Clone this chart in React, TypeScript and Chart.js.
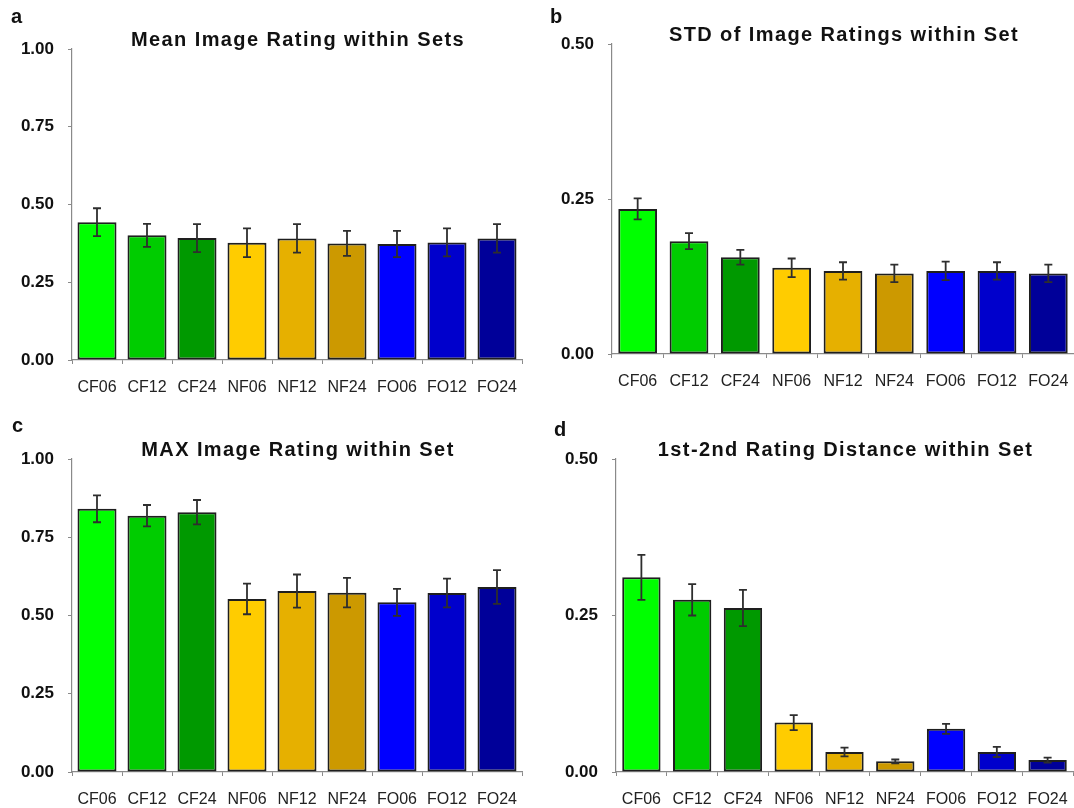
import React, { useEffect, useRef } from 'react';
import { Chart, registerables } from 'chart.js';

Chart.register(...registerables);

// ---------- data ----------
const categories = ['CF06', 'CF12', 'CF24', 'NF06', 'NF12', 'NF24', 'FO06', 'FO12', 'FO24'];
const barColors = ['#00ff00', '#00cc00', '#009900', '#ffcc00', '#e6b000', '#cc9900', '#0000ff', '#0000cc', '#000099'];

const meanRating = [0.443, 0.401, 0.392, 0.377, 0.391, 0.375, 0.373, 0.378, 0.391];
const meanRatingErr = [0.045, 0.037, 0.045, 0.046, 0.046, 0.040, 0.042, 0.045, 0.046];

const stdRating = [0.234, 0.182, 0.156, 0.139, 0.134, 0.130, 0.134, 0.134, 0.130];
const stdRatingErr = [0.017, 0.013, 0.012, 0.015, 0.014, 0.014, 0.015, 0.014, 0.014];

const maxRating = [0.841, 0.819, 0.830, 0.553, 0.578, 0.573, 0.542, 0.572, 0.591];
const maxRatingErr = [0.043, 0.034, 0.039, 0.049, 0.053, 0.047, 0.043, 0.046, 0.054];

const distRating = [0.311, 0.275, 0.262, 0.079, 0.032, 0.017, 0.069, 0.032, 0.019];
const distRatingErr = [0.036, 0.025, 0.029, 0.012, 0.007, 0.003, 0.008, 0.008, 0.004];

const yMaxFull = 1.0;
const yMaxHalf = 0.5;
const yStep = 0.25;

// ---------- layout ----------
const CW = 537;
const CH = 404;
const FONT = '"Liberation Sans", Arial, Helvetica, sans-serif';

type Panel = {
  letter: string;
  title: string;
  values: number[];
  errors: number[];
  yMax: number;
  left: number;
  top: number;
  area: { left: number; top: number; right: number; bottom: number };
  letterPos: { x: number; y: number };
  barPct: number;
};

const panels: Panel[] = [
  {
    letter: 'a', title: 'Mean Image Rating within Sets', values: meanRating, errors: meanRatingErr, yMax: yMaxFull,
    left: 0, top: 0, area: { left: 72, top: 49, right: 522, bottom: 360 }, letterPos: { x: 11, y: 22.7 }, barPct: 0.78,
  },
  {
    letter: 'b', title: 'STD of Image Ratings within Set', values: stdRating, errors: stdRatingErr, yMax: yMaxHalf,
    left: CW, top: 0, area: { left: 75, top: 44, right: 537, bottom: 354 }, letterPos: { x: 13, y: 22.7 }, barPct: 0.755,
  },
  {
    letter: 'c', title: 'MAX Image Rating within Set', values: maxRating, errors: maxRatingErr, yMax: yMaxFull,
    left: 0, top: CH, area: { left: 72, top: 55, right: 522, bottom: 368 }, letterPos: { x: 12, y: 28.3 }, barPct: 0.78,
  },
  {
    letter: 'd', title: '1st-2nd Rating Distance within Set', values: distRating, errors: distRatingErr, yMax: yMaxHalf,
    left: CW, top: CH, area: { left: 79, top: 55, right: 536, bottom: 368 }, letterPos: { x: 17, y: 31.7 }, barPct: 0.755,
  },
];

// ---------- plugins ----------
const errorBarPlugin = {
  id: 'errorBars',
  afterDatasetsDraw(chart: any, _args: any, opts: any) {
    const errs: number[] = opts.errors || [];
    const ctx = chart.ctx;
    const meta = chart.getDatasetMeta(0);
    const y = chart.scales.y;
    const data = chart.data.datasets[0].data as number[];
    ctx.save();
    ctx.strokeStyle = '#2e2e2e';
    ctx.lineWidth = 1.8;
    meta.data.forEach((bar: any, i: number) => {
      const v = data[i];
      const e = errs[i];
      const yTop = y.getPixelForValue(v + e);
      const yBot = y.getPixelForValue(v - e);
      const x = bar.x;
      ctx.beginPath();
      ctx.moveTo(x, yTop);
      ctx.lineTo(x, yBot);
      ctx.moveTo(x - 4, yTop);
      ctx.lineTo(x + 4, yTop);
      ctx.moveTo(x - 4, yBot);
      ctx.lineTo(x + 4, yBot);
      ctx.stroke();
    });
    ctx.restore();
  },
};

const panelTextPlugin = {
  id: 'panelText',
  afterDraw(chart: any, _args: any, opts: any) {
    const ctx = chart.ctx;
    const ca = chart.chartArea;
    ctx.save();
    ctx.fillStyle = '#111111';
    ctx.textBaseline = 'alphabetic';
    ctx.textAlign = 'left';
    ctx.font = `bold 20px ${FONT}`;
    ctx.fillText(opts.letter, opts.letterX, opts.letterY);
    ctx.font = `bold 20px ${FONT}`;
    try { (ctx as any).letterSpacing = '1.4px'; } catch (e) { /* ignore */ }
    ctx.textAlign = 'center';
    ctx.fillText(opts.title, (ca.left + ca.right) / 2 + 1, ca.top - 3.5);
    ctx.restore();
  },
};

// ---------- components ----------
function BarPanel({ p }: { p: Panel }) {
  const ref = useRef<HTMLCanvasElement | null>(null);
  useEffect(() => {
    if (!ref.current) return;
    const chart = new Chart(ref.current, {
      type: 'bar',
      data: {
        labels: categories,
        datasets: [
          {
            data: p.values,
            backgroundColor: barColors,
            borderColor: '#1e1e1e',
            borderWidth: 2,
            borderSkipped: false,
            barPercentage: p.barPct,
            categoryPercentage: 1,
          },
        ],
      },
      options: {
        responsive: false,
        animation: false,
        devicePixelRatio: 1,
        layout: {
          padding: { left: 0, top: p.area.top, right: CW - p.area.right, bottom: 0 },
        },
        plugins: {
          legend: { display: false },
          tooltip: { enabled: false },
          title: { display: false },
          errorBars: { errors: p.errors },
          panelText: { letter: p.letter, title: p.title, letterX: p.letterPos.x, letterY: p.letterPos.y },
        } as any,
        scales: {
          x: {
            offset: true,
            grid: {
              display: true,
              offset: true,
              drawOnChartArea: false,
              drawTicks: true,
              tickLength: 4,
              color: '#8a8a8a',
              lineWidth: 1,
            },
            border: { display: true, color: '#8a8a8a', width: 1.2 },
            ticks: {
              color: '#222222',
              font: { family: FONT, size: 16, weight: 'normal' as any },
              padding: 14,
              maxRotation: 0,
              autoSkip: false,
            },
            afterFit: (scale: any) => {
              scale.height = CH - p.area.bottom;
              scale.paddingLeft = 0;
              scale.paddingRight = 0;
            },
          },
          y: {
            min: 0,
            max: p.yMax,
            grid: {
              display: true,
              drawOnChartArea: false,
              drawTicks: true,
              tickLength: 4,
              color: '#8a8a8a',
              lineWidth: 1,
            },
            border: { display: true, color: '#8a8a8a', width: 1.2 },
            ticks: {
              stepSize: yStep,
              color: '#111111',
              font: { family: FONT, size: 17, weight: 'bold' as any },
              padding: 14,
              callback: (v: any) => Number(v).toFixed(2),
            },
            afterFit: (scale: any) => {
              scale.width = p.area.left;
              scale.paddingTop = 0;
              scale.paddingBottom = 0;
            },
          },
        },
      },
      plugins: [errorBarPlugin, panelTextPlugin],
    } as any);
    return () => chart.destroy();
  }, [p]);

  return (
    <canvas
      ref={ref}
      width={CW}
      height={CH}
      style={{ position: 'absolute', left: p.left, top: p.top, width: CW, height: CH }}
    />
  );
}

export default function App() {
  return (
    <div style={{ position: 'absolute', left: 0, top: 0, width: 1074, height: 808, background: '#ffffff', overflow: 'hidden' }}>
      {panels.map((p) => (
        <BarPanel key={p.letter} p={p} />
      ))}
    </div>
  );
}
